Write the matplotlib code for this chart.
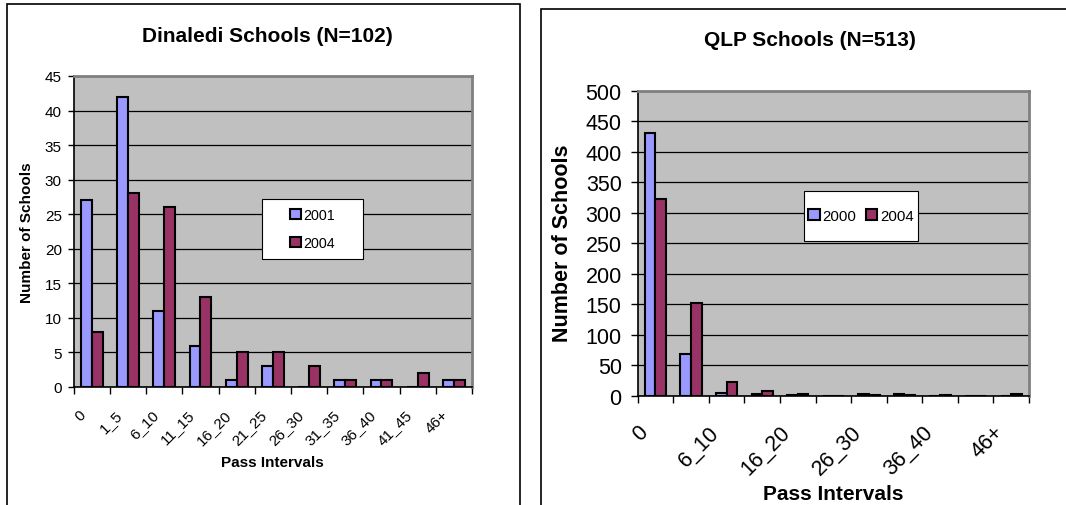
"""
Pass interval distributions for Dinaledi and QLP schools, two side-by-side bar charts.
"""

import matplotlib.pyplot as plt
from matplotlib.patches import Rectangle
from matplotlib.transforms import ScaledTranslation
import numpy as np

plt.rcParams["font.family"] = ["Liberation Sans", "DejaVu Sans"]

intervals = ["0", "1_5", "6_10", "11_15", "16_20", "21_25", "26_30",
             "31_35", "36_40", "41_45", "46+"]

dinaledi_2001 = [27, 42, 11, 6, 1, 3, 0, 1, 1, 0, 1]
dinaledi_2004 = [8, 28, 26, 13, 5, 5, 3, 1, 1, 2, 1]

qlp_2000 = [431, 68, 4, 3, 1, 0, 2, 2, 0, 0, 0]
qlp_2004 = [323, 151, 22, 8, 2, 0, 1, 1, 1, 0, 3]

BLUE = "#9999FF"
PLUM = "#993366"
PLOT_BG = "#C0C0C0"

W, H = 1066, 506
fig = plt.figure(figsize=(W / 100, H / 100), dpi=100)


def px(x, y):
    return x / W, 1 - y / H


def box(x0, y0, x1, y1, lw=0.8, z=5):
    # rectangle given by pixel corners (top-left origin)
    r = Rectangle(px(x0, y1), (x1 - x0) / W, (y1 - y0) / H,
                  transform=fig.transFigure, facecolor="white",
                  edgecolor="black", linewidth=lw, zorder=z)
    fig.add_artist(r)


def draw_panel(ax, a, b, labels, ymax, ystep, ticksize, label_every, lab_shift,
               ytick, leg_labels, leg_box, leg_ncol, leg_size, leg_spacing):
    x = np.arange(len(labels))
    w = 0.3
    ax.set_facecolor(PLOT_BG)
    ax.bar(x - w / 2, a, w, color=BLUE, edgecolor="black", linewidth=1.5,
           label=leg_labels[0], zorder=3)
    ax.bar(x + w / 2, b, w, color=PLUM, edgecolor="black", linewidth=1.5,
           label=leg_labels[1], zorder=3)
    ax.set_xlim(-0.5, len(labels) - 0.5)
    ax.set_ylim(0, ymax)
    ax.set_yticks(np.arange(0, ymax + 1, ystep))
    ax.yaxis.grid(True, color="black", linewidth=0.9, zorder=0)
    ax.set_axisbelow(True)

    # ticks between categories, labels at category centres
    ax.set_xticks(np.arange(-0.5, len(labels)), minor=False)
    ax.set_xticklabels([])
    ax.set_xticks(x[::label_every], minor=True)
    ax.set_xticklabels(labels[::label_every], minor=True, rotation=45,
                       ha="right", rotation_mode="anchor", fontsize=ticksize)
    ax.tick_params(axis="x", which="minor", length=0, pad=7)
    ax.tick_params(axis="x", which="major", direction="out", length=5, width=1)
    ax.tick_params(axis="y", direction="out", length=ytick[0], width=1,
                   labelsize=ticksize, pad=ytick[1])
    shift = ScaledTranslation(lab_shift[0] * 0.72 / 72, -lab_shift[1] * 0.72 / 72,
                              fig.dpi_scale_trans)
    for lab in ax.get_xticklabels(minor=True):
        lab.set_transform(lab.get_transform() + shift)

    for s in ("top", "right"):
        ax.spines[s].set_color("#808080")
        ax.spines[s].set_linewidth(2)
    for s in ("left", "bottom"):
        ax.spines[s].set_color("black")
        ax.spines[s].set_linewidth(1.2)
    ax.spines["bottom"].set_zorder(4)

    x0, y0, x1, y1 = leg_box
    box(x0, y0, x1, y1)
    leg = fig.legend(*ax.get_legend_handles_labels(), loc="center",
                     bbox_to_anchor=px((x0 + x1) / 2, (y0 + y1) / 2),
                     ncol=leg_ncol, fontsize=leg_size, frameon=False,
                     handlelength=0.75, handleheight=0.75, handletextpad=0.2,
                     columnspacing=0.6, borderpad=0.2, labelspacing=leg_spacing)
    leg.set_zorder(6)


# left panel: Dinaledi
ax1 = fig.add_axes([73.7 / W, 1 - 388 / H, (472 - 73.7) / W, (388 - 77) / H])
draw_panel(ax1, dinaledi_2001, dinaledi_2004, intervals, 45, 5, 11, 1, (-13, 10),
           (4, 4.5), ["2001", "2004"], (262, 200, 363, 260), 1, 10.3, 1.0)

# right panel: QLP
ax2 = fig.add_axes([637.7 / W, 1 - 396.6 / H, (1029 - 637.7) / W, (396.6 - 91.6) / H])
draw_panel(ax2, qlp_2000, qlp_2004, intervals, 500, 50, 15.5, 2, (-18, 16),
           (5, 6.5), ["2000", "2004"], (804, 192, 918, 242), 2, 10.8, 0.5)

# titles and axis labels
fig.text(*px(267, 36), "Dinaledi Schools (N=102)", ha="center", va="center",
         fontsize=15, fontweight="bold")
fig.text(*px(27, 233), "Number of Schools", ha="center", va="center",
         rotation=90, fontsize=11, fontweight="bold")
fig.text(*px(272, 463), "Pass Intervals", ha="center", va="center",
         fontsize=11, fontweight="bold")

fig.text(*px(810, 40), "QLP Schools (N=513)", ha="center", va="center",
         fontsize=15, fontweight="bold")
fig.text(*px(562, 243), "Number of Schools", ha="center", va="center",
         rotation=90, fontsize=15.5, fontweight="bold")
fig.text(*px(833, 495), "Pass Intervals", ha="center", va="center",
         fontsize=15, fontweight="bold")

# panel frames
fig.add_artist(Rectangle(px(7, 530), (520 - 7) / W, (530 - 5) / H,
                         transform=fig.transFigure, fill=False,
                         edgecolor="black", linewidth=1.2))
fig.add_artist(Rectangle(px(541, 530), (1100 - 541) / W, (530 - 10) / H,
                         transform=fig.transFigure, fill=False,
                         edgecolor="black", linewidth=1.2))

fig.savefig("out.png", dpi=100)
plt.close(fig)
